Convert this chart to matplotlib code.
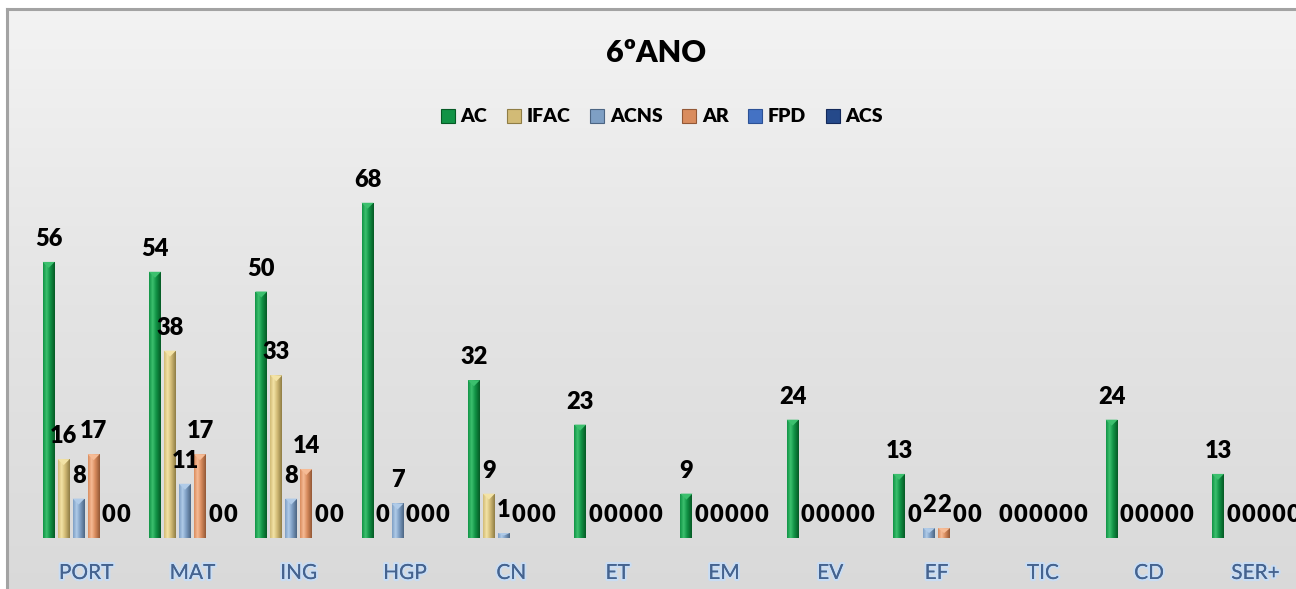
import numpy as np
import matplotlib
matplotlib.use("Agg")
import matplotlib.pyplot as plt
from matplotlib.colors import LinearSegmentedColormap
from matplotlib.patches import Patch
import matplotlib.patheffects as pe

plt.rcParams['font.family'] = ['Lato', 'DejaVu Sans']

title = "6ºANO"
categories = ["PORT", "MAT", "ING", "HGP", "CN", "ET", "EM", "EV", "EF", "TIC", "CD", "SER+"]
series_names = ["AC", "IFAC", "ACNS", "AR", "FPD", "ACS"]
AC   = [56, 54, 50, 68, 32, 23, 9, 24, 13, 0, 24, 13]
IFAC = [16, 38, 33, 0, 9, 0, 0, 0, 0, 0, 0, 0]
ACNS = [8, 11, 8, 7, 1, 0, 0, 0, 2, 0, 0, 0]
AR   = [17, 17, 14, 0, 0, 0, 0, 0, 2, 0, 0, 0]
FPD  = [0, 0, 0, 0, 0, 0, 0, 0, 0, 0, 0, 0]
ACS  = [0, 0, 0, 0, 0, 0, 0, 0, 0, 0, 0, 0]
series_values = [AC, IFAC, ACNS, AR, FPD, ACS]

# (light, mid, dark) per series
palette = [
    ("#3cc06e", "#119346", "#055a25"),
    ("#f3e3a6", "#d2bb76", "#8f7d45"),
    ("#b0cbe8", "#7e9fc4", "#4c6583"),
    ("#f6bb95", "#d98c5e", "#935836"),
    ("#6e95d8", "#4472c4", "#2c5196"),
    ("#3e63a6", "#25498a", "#13295a"),
]

W, H = 1296, 589
fig = plt.figure(figsize=(W / 100, H / 100), dpi=100)
fig.patch.set_facecolor("white")

# chart area background with vertical gradient
bg = fig.add_axes([7 / W, -0.02, 1.0, (H - 9) / H + 0.02])
grad_v = np.linspace(0, 1, 256).reshape(-1, 1)
bg_cmap = LinearSegmentedColormap.from_list("bg", ["#d9d9d9", "#e4e4e4", "#f3f3f3"])
bg.imshow(grad_v, cmap=bg_cmap, aspect="auto", origin="lower", extent=[0, 1, 0, 1])
bg.set_xlim(0, 1)
bg.set_ylim(0, 1)
bg.set_xticks([])
bg.set_yticks([])
for s in ["right", "bottom"]:
    bg.spines[s].set_visible(False)
for s in ["left", "top"]:
    bg.spines[s].set_color("#a3a3a3")
    bg.spines[s].set_linewidth(2.2)
bg.set_zorder(0)

px_per_unit = 4.93
cat_w = 106.3
ymax = 70
ax = fig.add_axes([33 / W, (H - 538) / H, 12 * cat_w / W, ymax * px_per_unit / H])
ax.set_facecolor("none")
ax.set_zorder(1)

x = np.arange(len(categories))
pitch = 15 / cat_w
bw = 12 / cat_w
grad_h = np.linspace(0, 1, 64).reshape(1, -1)
cap_depth = 6 / px_per_unit

for i, (name, vals) in enumerate(zip(series_names, series_values)):
    light, mid, dark = palette[i]
    cmap = LinearSegmentedColormap.from_list(name, [(0, mid), (0.3, light), (0.6, mid), (1, dark)])
    offs = (i - 2.5) * pitch
    bars = ax.bar(x + offs, vals, bw, color=mid, zorder=2, linewidth=0)
    for b, v in zip(bars, vals):
        if v > 0:
            x0 = b.get_x()
            x1 = x0 + b.get_width()
            im = ax.imshow(grad_h, cmap=cmap, aspect="auto", extent=[x0, x1, 0, v], zorder=2.5)
            im.set_clip_path(b)
            d = min(cap_depth, v * 0.5)
            ax.fill([x0, x1, (x0 + x1) / 2], [v, v, v - d], color=light, zorder=3, linewidth=0)
        ax.annotate(str(v), (b.get_x() + b.get_width() / 2, v), xytext=(0, 16),
                    textcoords="offset pixels", ha="center", va="baseline",
                    fontsize=17, fontweight="heavy", color="black", zorder=5)

ax.set_xlim(-0.5, len(categories) - 0.5)
ax.set_ylim(0, ymax)
ax.set_xticks(x)
ax.set_xticklabels(categories, fontsize=15, color="#45638f")
for t in ax.get_xticklabels():
    t.set_path_effects([pe.withStroke(linewidth=3, foreground="#c9ddf4"), pe.Normal()])
ax.tick_params(axis="x", length=0, pad=18)
ax.set_yticks([])
for s in ax.spines.values():
    s.set_visible(False)

fig.text(656 / W, (H - 53) / H, title, ha="center", va="center",
         fontsize=22, fontweight="heavy", color="black")

handles = [Patch(facecolor=palette[i][1], edgecolor=palette[i][2], linewidth=0.8)
           for i in range(len(series_names))]
leg = fig.legend(handles, series_names, loc="center", bbox_to_anchor=(662 / W, (H - 117) / H),
                 ncol=6, frameon=False, prop={"weight": "heavy", "size": 14},
                 handlelength=0.72, handleheight=0.72, handletextpad=0.3, columnspacing=1.0)

fig.savefig("out.png", dpi=100)
